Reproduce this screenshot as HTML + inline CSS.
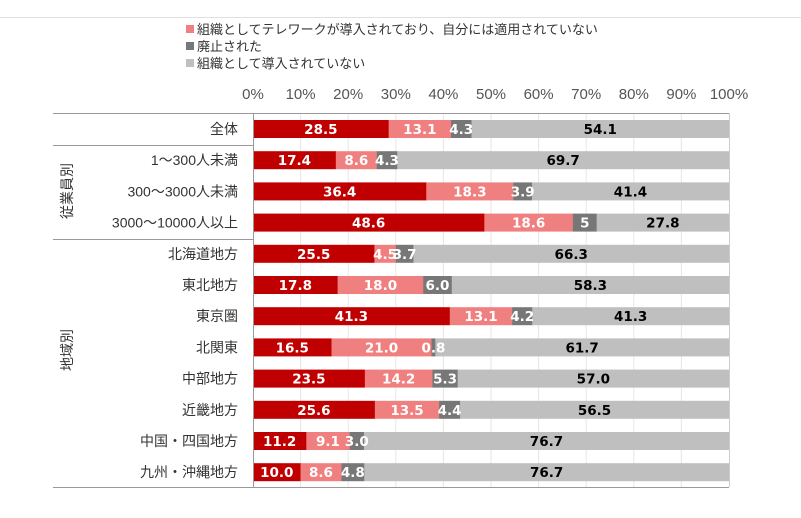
<!DOCTYPE html>
<html><head><meta charset="utf-8"><style>
body{margin:0;background:#fff;}
text{font-family:"Liberation Sans","Noto Sans CJK JP",sans-serif;}
.l{font-size:14px;fill:#333;}
.v{font-family:"DejaVu Sans","Noto Sans CJK JP",sans-serif;font-size:13.5px;font-weight:bold;}
</style></head><body>
<svg width="801" height="513" xmlns="http://www.w3.org/2000/svg">
<line x1="0" y1="17.5" x2="801" y2="17.5" stroke="#e0e0e0"/>
<rect x="186" y="25" width="8" height="8" fill="#f08080"/>
<text x="197" y="34" class="l" style="font-size:13px">組織としてテレワークが導入されており、自分には適用されていない</text>
<rect x="186" y="42" width="8" height="8" fill="#777"/>
<text x="197" y="51" class="l" style="font-size:13px">廃止された</text>
<rect x="186" y="59" width="8" height="8" fill="#bfbfbf"/>
<text x="197" y="68" class="l" style="font-size:13px">組織として導入されていない</text>
<g id="ax" font-size="15" fill="#555" text-anchor="middle"></g>
<g id="grid"></g>
<g id="bars"></g>
<line x1="53" y1="113.5" x2="729" y2="113.5" stroke="#999"/>
<line x1="53" y1="145.5" x2="253" y2="145.5" stroke="#999"/>
<line x1="53" y1="239.5" x2="253" y2="239.5" stroke="#999"/>
<line x1="53" y1="487.5" x2="729" y2="487.5" stroke="#999"/>
<line x1="253.5" y1="113" x2="253.5" y2="487" stroke="#999"/>
<line x1="729.5" y1="113" x2="729.5" y2="487" stroke="#ccc"/>
<text class="l" transform="translate(72,191) rotate(-90)" text-anchor="middle">従業員別</text>
<text class="l" transform="translate(72,350) rotate(-90)" text-anchor="middle">地域別</text>
<g id="labels" text-anchor="end"></g>
</svg>
<script>
var ns="http://www.w3.org/2000/svg";
function el(p,t,a,tx){var e=document.createElementNS(ns,t);for(var k in a)e.setAttribute(k,a[k]);if(tx!==undefined)e.textContent=tx;document.getElementById(p).appendChild(e);return e;}
var X0=253,W=476;
for(var i=0;i<=10;i++){var x=X0+W*i/10;el("ax","text",{x:x,y:99},(i*10)+"%");if(i>0&&i<10)el("grid","line",{x1:x,y1:114,x2:x,y2:487,stroke:"#e6e6e6"});}
var rows=[["全体","28.5","13.1","4.3","54.1"],["1～300人未満","17.4","8.6","4.3","69.7"],["300～3000人未満","36.4","18.3","3.9","41.4"],["3000～10000人以上","48.6","18.6","5","27.8"],["北海道地方","25.5","4.5","3.7","66.3"],["東北地方","17.8","18.0","6.0","58.3"],["東京圏","41.3","13.1","4.2","41.3"],["北関東","16.5","21.0","0.8","61.7"],["中部地方","23.5","14.2","5.3","57.0"],["近畿地方","25.6","13.5","4.4","56.5"],["中国・四国地方","11.2","9.1","3.0","76.7"],["九州・沖縄地方","10.0","8.6","4.8","76.7"]];
var cols=["#c00000","#f08080","#777","#bfbfbf"],tc=["#fff","#fff","#fff","#000"];
rows.forEach(function(r,j){var cy=129+j*31.2;el("labels","text",{x:238,y:cy+5,"class":"l"},r[0]);
var v=r.slice(1).map(Number),sum=v[0]+v[1]+v[2]+v[3],x=X0;
for(var k=0;k<4;k++){var w=W*v[k]/sum;el("bars","rect",{x:x,y:cy-9,width:w+0.3,height:18,fill:cols[k]});x+=w;}
x=X0;for(var k=0;k<4;k++){var w=W*v[k]/sum;el("bars","text",{x:x+w/2,y:cy+5,"class":"v",fill:tc[k],"text-anchor":"middle"},r[k+1]);x+=w;}});
</script>
</body></html>
